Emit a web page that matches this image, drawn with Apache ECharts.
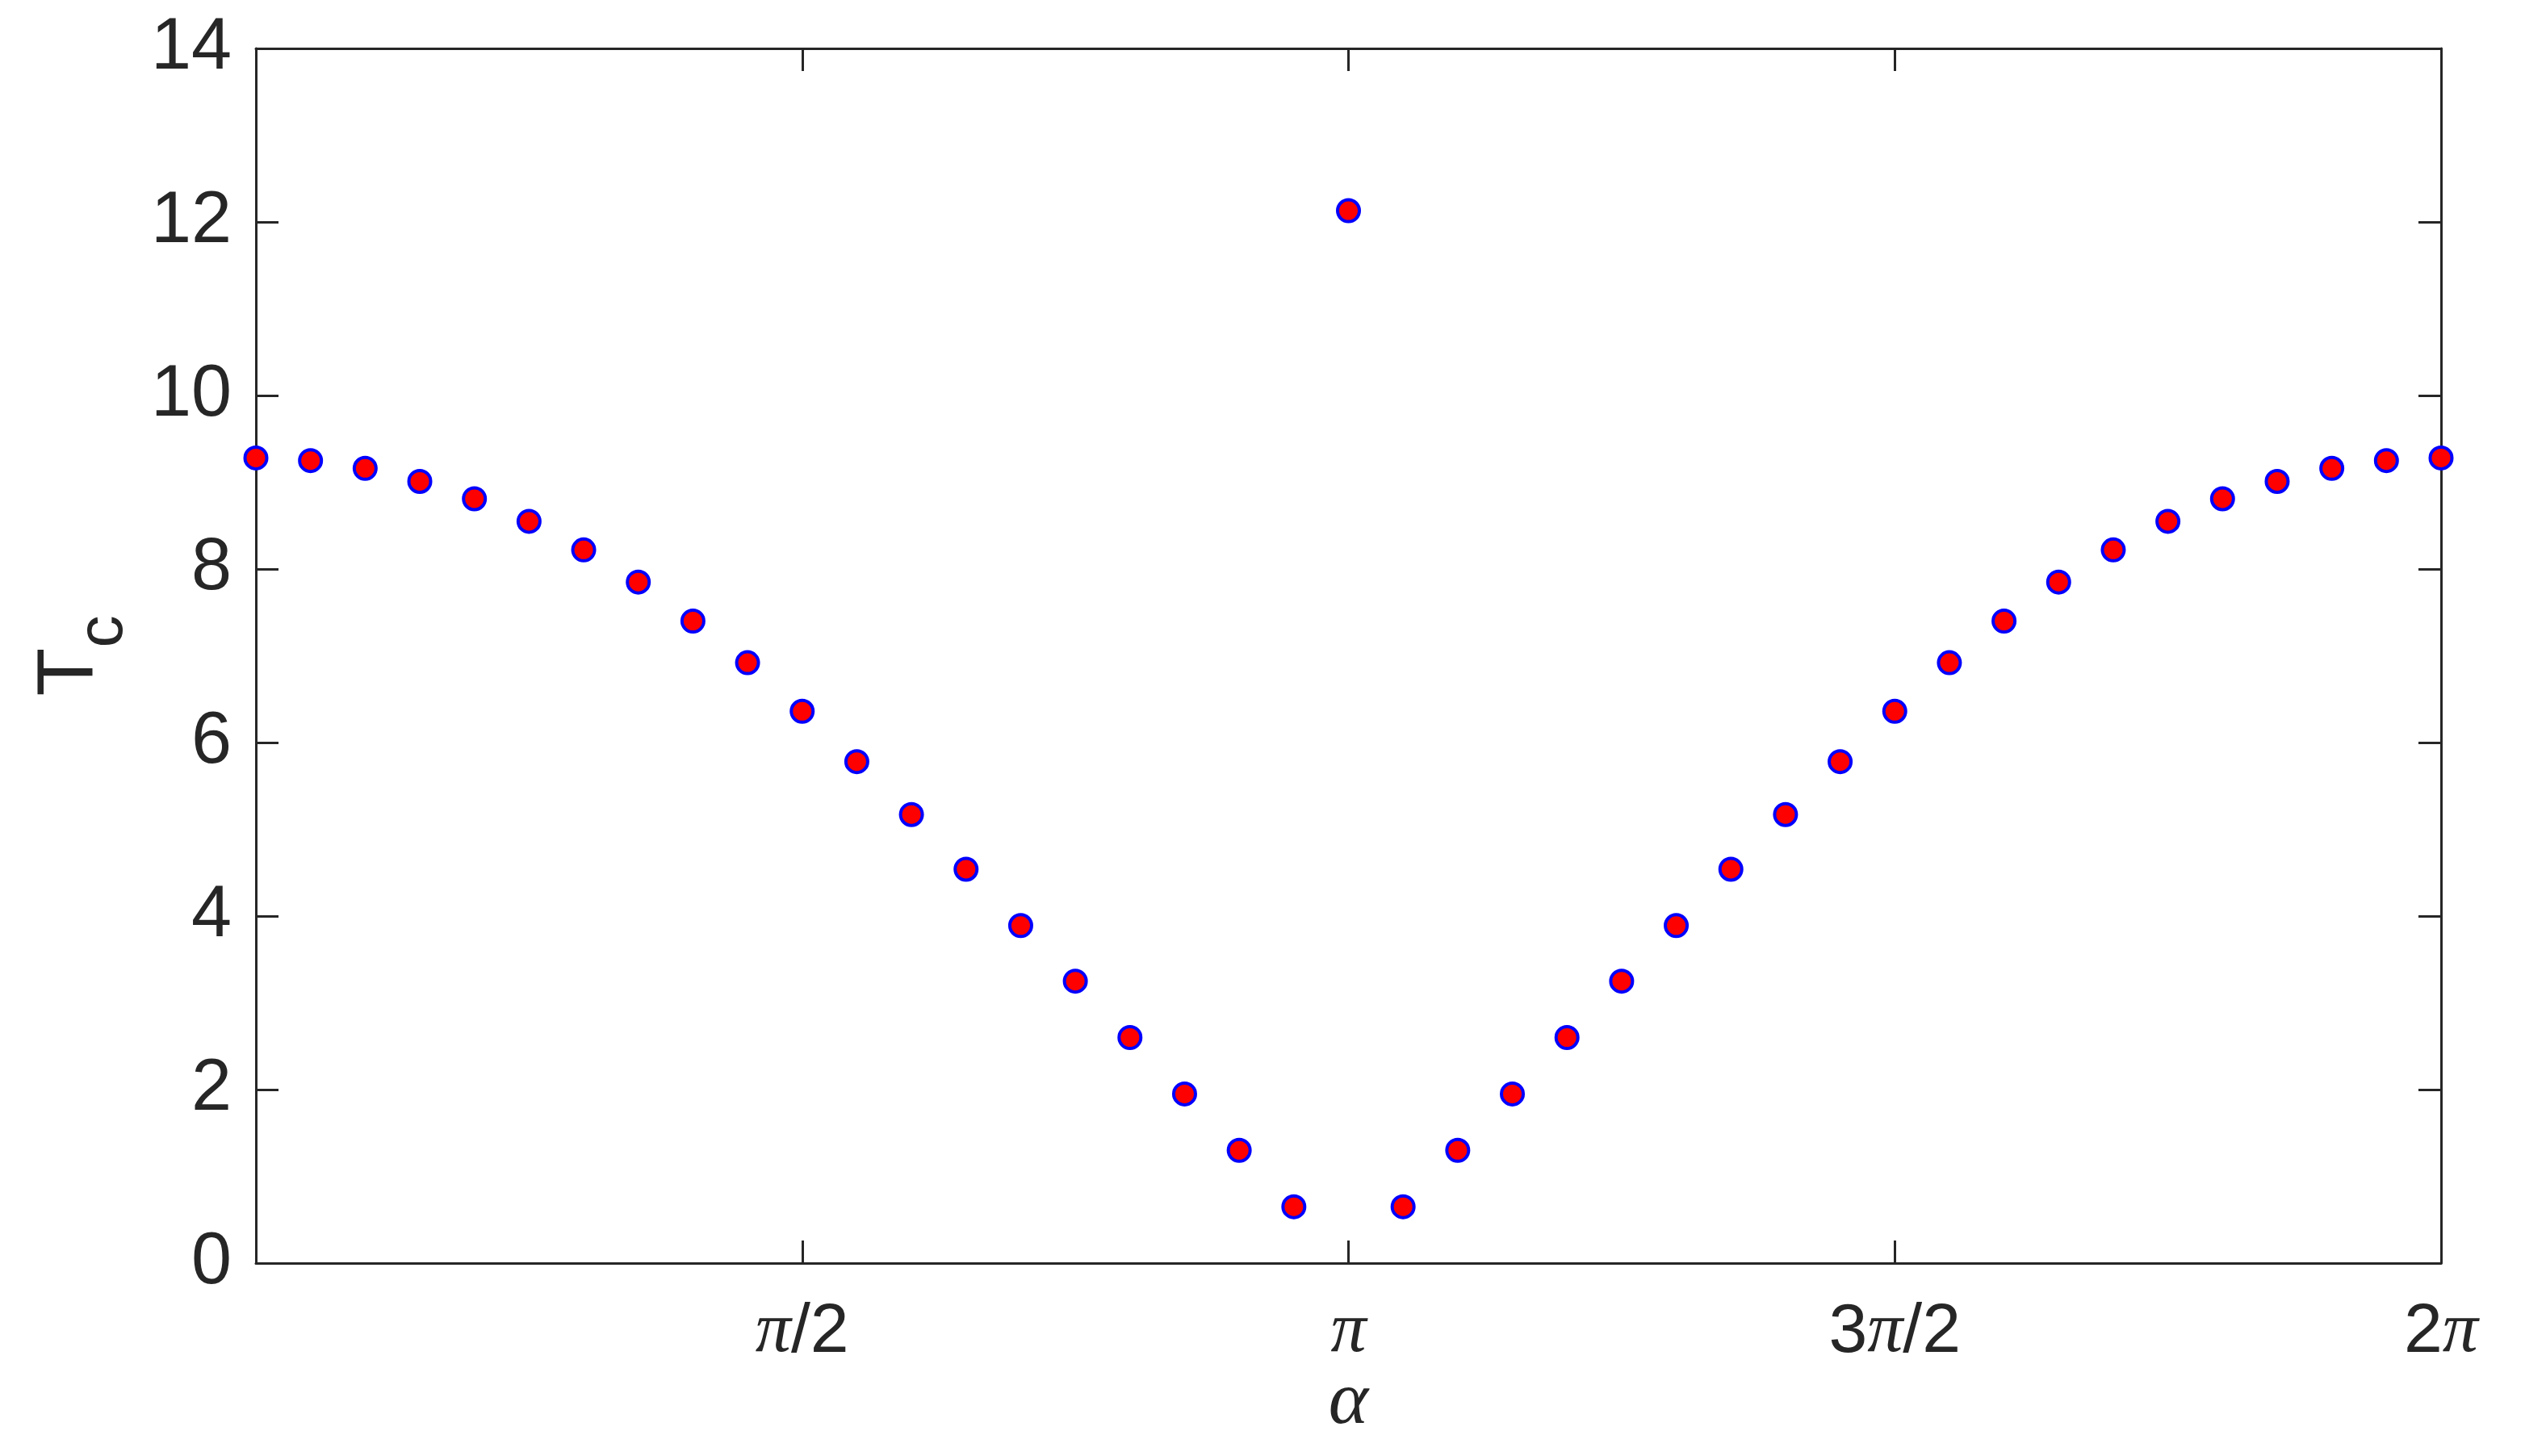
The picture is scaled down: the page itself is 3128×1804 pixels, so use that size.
<!DOCTYPE html>
<html>
<head>
<meta charset="utf-8">
<script src="https://cdn.jsdelivr.net/npm/echarts@6/dist/echarts.min.js"></script>
<style>
html,body{margin:0;padding:0;background:#fff;}
#chart{width:3128px;height:1804px;}
</style>
</head>
<body>
<div id="chart"></div>
<script>
// alpha in units of pi (0 .. 2, step 1/20)
const alphaOverPi = [0,0.05,0.1,0.15,0.2,0.25,0.3,0.35,0.4,0.45,0.5,0.55,0.6,0.65,0.7,0.75,0.8,0.85,0.9,0.95,1,
  1.05,1.1,1.15,1.2,1.25,1.3,1.35,1.4,1.45,1.5,1.55,1.6,1.65,1.7,1.75,1.8,1.85,1.9,1.95,2];
const Tc = [9.28,9.25,9.16,9.01,8.81,8.55,8.22,7.85,7.40,6.92,6.36,5.78,5.17,4.54,3.89,3.25,2.60,1.95,1.30,0.65,12.13,
  0.65,1.30,1.95,2.60,3.25,3.89,4.54,5.17,5.78,6.36,6.92,7.40,7.85,8.22,8.55,8.81,9.01,9.16,9.25,9.28];
const xTickValues = [0,0.5,1,1.5,2];
const xTickLabels = ['', '{p|π}{n|/2}', '{p|π}', '{n|3}{p|π}{n|/2}', '{n|2}{p|π}'];
const yTicks = [0,2,4,6,8,10,12,14];

const axisColor = '#262626';
const sans = 'Liberation Sans';
const serif = 'Liberation Serif';

const chart = echarts.init(document.getElementById('chart'), null, {renderer:'canvas'});
const lineStyle = {color: axisColor, width: 3};
const tickStyle = {show:true, inside:true, length:28, lineStyle:{color:axisColor, width:3}};

chart.setOption({
  backgroundColor:'#ffffff',
  animation:false,
  grid:{left:317, right:104, top:60, bottom:239, containLabel:false, outerBoundsMode:'none'},
  xAxis:[{
    type:'value', position:'bottom', min:0, max:2, interval:0.5,
    axisLine:{show:true, onZero:false, lineStyle:lineStyle},
    axisTick:tickStyle,
    splitLine:{show:false},
    axisLabel:{
      margin:44,
      formatter:function(v){ const i = xTickValues.findIndex(t=>Math.abs(t-v)<1e-6); return i>=0 ? xTickLabels[i] : ''; },
      rich:{
        n:{fontFamily:sans, fontSize:86, color:axisColor, lineHeight:84},
        p:{fontFamily:serif, fontStyle:'italic', fontSize:88, color:axisColor, lineHeight:84}
      }
    },
    name:'α', nameLocation:'middle', nameGap:126, nameMoveOverlap:false,
    nameTextStyle:{fontFamily:serif, fontStyle:'italic', fontSize:94, color:axisColor}
  },{
    type:'value', position:'top', min:0, max:2, interval:0.5,
    axisLine:{show:true, onZero:false, lineStyle:lineStyle},
    axisTick:tickStyle, axisLabel:{show:false}, splitLine:{show:false}
  }],
  yAxis:[{
    type:'value', position:'left', min:0, max:14, interval:2,
    axisLine:{show:true, onZero:false, lineStyle:lineStyle},
    axisTick:tickStyle,
    splitLine:{show:false},
    axisLabel:{margin:30, fontFamily:sans, fontSize:90, color:axisColor},
    name:'{t|T}{s|c}', nameLocation:'middle', nameGap:180, nameRotate:90, nameMoveOverlap:false,
    nameTextStyle:{
      color:axisColor,
      rich:{
        t:{fontFamily:sans, fontSize:98, color:axisColor, lineHeight:100},
        s:{fontFamily:sans, fontSize:80, color:axisColor, lineHeight:60, padding:[84,0,0,0]}
      }
    }
  },{
    type:'value', position:'right', min:0, max:14, interval:2,
    axisLine:{show:true, onZero:false, lineStyle:lineStyle},
    axisTick:tickStyle, axisLabel:{show:false}, splitLine:{show:false}
  }],
  series:[{
    type:'scatter',
    data: alphaOverPi.map((a,i)=>[a, Tc[i]]),
    symbol:'circle', symbolSize:27, clip:false,
    itemStyle:{color:'#ff0000', borderColor:'#0000ff', borderWidth:4, opacity:1}
  }]
});
</script>
</body>
</html>
